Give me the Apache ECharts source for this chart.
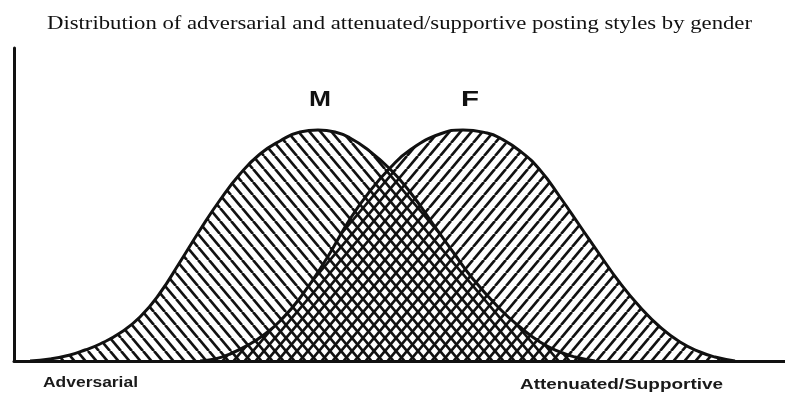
<!DOCTYPE html>
<html>
<head>
<meta charset="utf-8">
<script src="https://cdn.jsdelivr.net/npm/echarts@6/dist/echarts.min.js"></script>
<style>
  html, body { margin: 0; padding: 0; background: #fff; }
  #chart { width: 785px; height: 396px; }
</style>
</head>
<body>
<div id="chart"></div>
<script>
// curve samples (position along axis, height above baseline)
var maleX   = [30, 50, 70, 85, 100, 120, 140, 160, 180, 200, 220, 240, 260, 280, 300, 318, 335, 350, 367, 390, 410, 433, 453, 473, 500, 520, 540, 560, 575, 595];
var maleY   = [0, 2, 6, 11, 17, 28, 44, 68, 99, 131, 161, 187, 207, 220, 229, 231, 229, 223, 212, 192, 169, 137, 109, 82, 52, 34, 19, 9, 4, 0];
var femaleX = [200, 215, 230, 250, 265, 280, 300, 327, 350, 370, 390, 410, 440, 463, 487, 500, 520, 540, 560, 580, 600, 620, 640, 660, 680, 700, 715, 735];
var femaleY = [0, 2, 7, 17, 27, 40, 63, 103, 142, 170, 193, 211, 227, 231, 228, 223, 210, 191, 164, 135, 106, 78, 54, 34, 19, 9, 4, 0];

var seriesNames = ['M', 'F'];
var titleText = 'Distribution of adversarial and attenuated/supportive posting styles by gender';
var leftLabel = 'Adversarial';
var rightLabel = 'Attenuated/Supportive';

function pairs(xs, ys) {
    var out = [];
    for (var i = 0; i < xs.length; i++) out.push([xs[i], ys[i]]);
    return out;
}

// diagonal hatch tile; dir 1 = "\\", -1 = "/"
function hatch(dir) {
    var w = 11, h = 13;
    var c = document.createElement('canvas');
    c.width = w; c.height = h;
    var ctx = c.getContext('2d');
    ctx.strokeStyle = '#111';
    ctx.lineWidth = 2.7;
    for (var k = -1; k <= 1; k++) {
        ctx.beginPath();
        if (dir > 0) {
            ctx.moveTo(k * w, 0); ctx.lineTo(k * w + w, h);
        } else {
            ctx.moveTo(k * w, h); ctx.lineTo(k * w + w, 0);
        }
        ctx.stroke();
    }
    return c;
}

// fit a text between two x positions
var measureCtx = document.createElement('canvas').getContext('2d');
function fitText(text, font, left, right, cy, fill) {
    measureCtx.font = font;
    var natural = measureCtx.measureText(text).width;
    return {
        type: 'text',
        x: left, y: cy,
        scaleX: (right - left) / natural,
        style: { text: text, font: font, fill: fill || '#1a1a1a', align: 'left', verticalAlign: 'middle' }
    };
}

var myChart = echarts.init(document.getElementById('chart'));
var option = {
    backgroundColor: '#fff',
    animation: false,
    grid: { left: 14, right: 0, top: 48, bottom: 35 },
    xAxis: {
        type: 'value', min: 14, max: 785,
        axisLine: { show: true, lineStyle: { color: '#111', width: 3 } },
        axisTick: { show: false }, axisLabel: { show: false }, splitLine: { show: false }
    },
    yAxis: {
        type: 'value', min: 0, max: 313,
        axisLine: { show: true, lineStyle: { color: '#111', width: 3 } },
        axisTick: { show: false }, axisLabel: { show: false }, splitLine: { show: false }
    },
    graphic: [
        fitText(titleText, '19px "Liberation Serif"', 47, 752, 24, '#111'),
        fitText(seriesNames[0], 'bold 22px "Liberation Sans"', 309, 331, 100, '#111'),
        fitText(seriesNames[1], 'bold 22px "Liberation Sans"', 461, 479, 100, '#111'),
        fitText(leftLabel, 'bold 15px "Liberation Sans"', 43, 138, 383),
        fitText(rightLabel, 'bold 15px "Liberation Sans"', 520, 723, 385)
    ],
    series: [{
        name: seriesNames[0],
        type: 'line',
        smooth: 0.5,
        showSymbol: false,
        data: pairs(maleX, maleY),
        lineStyle: { color: '#111', width: 3 },
        areaStyle: { color: { image: hatch(1), repeat: 'repeat' }, opacity: 1 }
    }, {
        name: seriesNames[1],
        type: 'line',
        smooth: 0.5,
        showSymbol: false,
        data: pairs(femaleX, femaleY),
        lineStyle: { color: '#111', width: 3 },
        areaStyle: { color: { image: hatch(-1), repeat: 'repeat' }, opacity: 1 }
    }]
};
myChart.setOption(option);
</script>
</body>
</html>
